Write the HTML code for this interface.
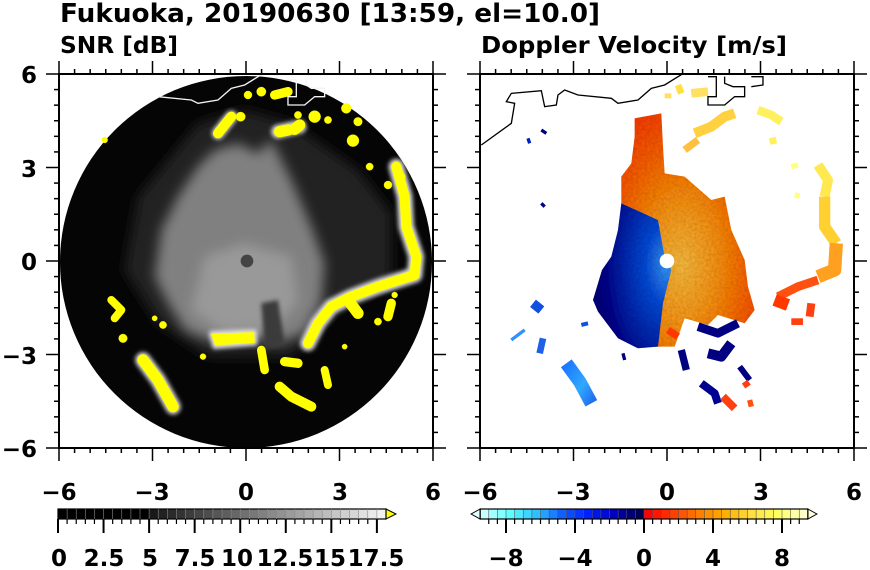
<!DOCTYPE html>
<html><head><meta charset="utf-8"><style>
html,body{margin:0;padding:0;background:#fff;}
svg{display:block;}
text{font-family:"DejaVu Sans","Liberation Sans",sans-serif;font-weight:bold;fill:#000;}
</style></head><body>
<svg id="s" width="870" height="570" viewBox="0 0 870 570" xmlns="http://www.w3.org/2000/svg">
<defs>
<filter id="bl" x="-30%" y="-30%" width="160%" height="160%"><feGaussianBlur stdDeviation="18"/></filter>
<filter id="bl2" x="-30%" y="-30%" width="160%" height="160%"><feGaussianBlur stdDeviation="6"/></filter>
<filter id="nz" x="0" y="0" width="100%" height="100%">
 <feTurbulence type="fractalNoise" baseFrequency="0.12" numOctaves="2" result="t"/>
 <feColorMatrix in="t" type="matrix" values="0 0 0 0 0  0 0 0 0 0  0 0 0 0 0  0 0 0 0.4 0" result="a"/>
 <feComposite in="a" in2="SourceGraphic" operator="in" result="m"/>
 <feMerge><feMergeNode in="SourceGraphic"/><feMergeNode in="m"/></feMerge>
</filter>
<radialGradient id="gb" cx="0.95" cy="0.42" r="0.9">
 <stop offset="0" stop-color="#3aa0ff"/><stop offset="0.3" stop-color="#1050e0"/><stop offset="0.7" stop-color="#0820a8"/><stop offset="1" stop-color="#000080"/>
</radialGradient>
<radialGradient id="go" cx="0.45" cy="0.65" r="0.75">
 <stop offset="0" stop-color="#ffc040"/><stop offset="0.35" stop-color="#ff9818"/><stop offset="0.7" stop-color="#ff6000"/><stop offset="1" stop-color="#ff3800"/>
</radialGradient>
<linearGradient id="gl" x1="0" y1="0" x2="1" y2="1"><stop offset="0" stop-color="#1a78ff"/><stop offset="0.6" stop-color="#30a8ff"/><stop offset="1" stop-color="#2070f0"/></linearGradient>
<clipPath id="cL"><rect x="59" y="74" width="374" height="374"/></clipPath>
<clipPath id="cR"><rect x="480" y="74" width="374" height="374"/></clipPath>
</defs>

<text x="60" y="22" font-size="26" textLength="540" lengthAdjust="spacingAndGlyphs">Fukuoka, 20190630 [13:59, el=10.0]</text>
<text x="60" y="53" font-size="23" textLength="118" lengthAdjust="spacingAndGlyphs">SNR [dB]</text>
<text x="481" y="53" font-size="23" textLength="306" lengthAdjust="spacingAndGlyphs">Doppler Velocity [m/s]</text>

<!-- LEFT PANEL -->
<g clip-path="url(#cL)">
<circle cx="246" cy="262" r="186" fill="#050505"/>
<g transform="translate(58,70) scale(0.3333)">
 <path filter="url(#bl)" fill="#222" d="M240,380 L420,160 L560,120 L700,160 L900,300 L1000,430 L1000,640 L840,720 L700,860 L450,860 L300,760 L200,600 Z"/>
 <path filter="url(#bl)" fill="#808080" d="M470,240 L540,220 L600,250 L640,210 L700,330 L760,470 L800,580 L790,700 L740,790 L660,820 L590,800 L450,810 L380,780 L330,700 L290,620 L310,480 L360,380 L420,290 Z"/>
 <path filter="url(#bl)" fill="#999" d="M440,560 L560,520 L700,560 L720,700 L640,780 L500,790 L400,720 Z"/>
 <path filter="url(#bl2)" fill="#3a3a3a" d="M610,700 L660,690 L680,820 L620,840 Z"/>
 <circle cx="567" cy="573" r="19" fill="#444"/>
 <g fill="#e8e8e8" stroke="#e0e0e0" stroke-linejoin="round" stroke-linecap="round" filter="url(#bl2)">
  <path stroke-width="14" d="M460,790 L590,785 L592,820 L470,830 Z"/>
  <polyline fill="none" stroke-width="46" points="1015,290 1040,380 1045,470 1075,560 1070,615 960,650 880,680 820,710 780,760 750,820"/>
  <polyline fill="none" stroke-width="46" points="255,870 300,930 345,1010"/>
  <polyline fill="none" stroke-width="36" points="480,190 520,140"/>
  <polyline fill="none" stroke-width="40" points="660,185 725,170"/>
 </g>
 <g fill="#ffff00" stroke="#ffff00" stroke-linejoin="round" stroke-linecap="round">
  <path d="M460,792 L588,787 L590,818 L472,826 Z"/>
  <polyline fill="none" stroke-width="30" points="1015,290 1040,380 1045,470 1075,560 1070,615 960,650 880,680 820,710 780,760 750,820"/>
  <polyline fill="none" stroke-width="34" points="870,690 900,730"/>
  <polyline fill="none" stroke-width="28" points="1000,700 990,740"/>
  <polyline fill="none" stroke-width="34" points="255,870 300,930 345,1010"/>
  <polyline fill="none" stroke-width="30" points="480,190 520,140"/>
  <circle cx="548" cy="140" r="14"/>
  <polyline fill="none" stroke-width="34" points="665,185 690,180"/>
  <polyline fill="none" stroke-width="34" points="710,178 725,165"/>
  <polyline fill="none" stroke-width="28" points="650,75 690,65"/>
  <circle cx="610" cy="65" r="14"/><circle cx="570" cy="75" r="12"/>
  <circle cx="770" cy="140" r="18"/><circle cx="720" cy="135" r="11"/><circle cx="810" cy="150" r="11"/>
  <circle cx="865" cy="115" r="15"/><circle cx="885" cy="212" r="18"/><circle cx="900" cy="155" r="13"/>
  <circle cx="935" cy="290" r="11"/><circle cx="990" cy="345" r="12"/><circle cx="1030" cy="320" r="12"/>
  <polyline fill="none" stroke-width="24" points="160,690 190,720 170,745"/>
  <circle cx="195" cy="805" r="13"/><circle cx="140" cy="210" r="9"/>
  <circle cx="315" cy="765" r="11"/><circle cx="290" cy="745" r="8"/>
  <polyline fill="none" stroke-width="26" points="610,840 620,900"/>
  <polyline fill="none" stroke-width="28" points="680,875 720,880"/>
  <polyline fill="none" stroke-width="30" points="665,950 700,980 760,1010"/>
  <polyline fill="none" stroke-width="24" points="800,900 810,945"/>
  <circle cx="435" cy="860" r="9"/><circle cx="860" cy="830" r="8"/><circle cx="960" cy="755" r="11"/>
  <circle cx="1010" cy="675" r="9"/>
 </g>
 <g fill="none" stroke="#f4f4f4" stroke-width="4">
  <path d="M300,80 L400,90 L420,100 L480,90 L520,55 L560,45 L600,20 L625,5"/>
  <path d="M690,30 L715,30 L715,80 L690,80 L690,105 L740,105 L770,80 L800,80 L800,55 L760,55 L745,45 L745,30"/>
 </g>
</g>
</g>

<!-- RIGHT PANEL -->
<g clip-path="url(#cR)">
<g transform="translate(478,70) scale(0.3333)">
 <path filter="url(#nz)" fill="url(#go)" d="M470,145 L550,130 L555,230 L560,310 L620,320 L700,390 L740,380 L760,480 L800,570 L810,650 L830,720 L800,760 L720,735 L690,765 L620,745 L590,830 L530,830 L540,700 L578,600 L560,560 L540,450 L430,400 L430,320 L460,280 L470,200 Z"/>
 <path filter="url(#nz)" fill="url(#gb)" d="M430,400 L540,450 L560,560 L580,600 L555,700 L540,830 L480,835 L420,805 L360,725 L345,690 L372,600 L400,560 L420,480 Z"/>
 <g stroke-linejoin="round" fill="none">
  <polyline stroke="#ffe850" stroke-width="30" points="1020,285 1050,330 1040,380"/>
  <polyline stroke="#ffd030" stroke-width="34" points="1040,380 1040,470 1075,520"/>
  <polyline stroke="#ffa020" stroke-width="40" points="1075,520 1070,600 1020,620"/>
  <polyline stroke="#ff5010" stroke-width="26" points="1020,630 960,650 900,680"/>
  <polyline stroke="#ff3800" stroke-width="36" points="890,690 930,705"/>
  <polyline stroke="#ff4010" stroke-width="24" points="1000,700 995,740"/>
  <polyline stroke="#ff4010" stroke-width="20" points="940,755 975,755"/>
  <polyline stroke="#ffd040" stroke-width="30" points="650,190 700,170 740,140 770,130"/>
  <polyline stroke="#ffc040" stroke-width="22" points="620,240 660,210"/>
  <polyline stroke="#ffe060" stroke-width="26" points="640,70 690,65"/>
  <polyline stroke="#ffe040" stroke-width="20" points="600,45 610,70"/>
  <polyline stroke="#ffe060" stroke-width="20" points="570,70 570,85"/>
  <polyline stroke="#fff060" stroke-width="26" points="840,120 880,135 910,155"/>
  <polyline stroke="#fff060" stroke-width="20" points="875,215 895,210"/>
  <polyline stroke="#ffff80" stroke-width="16" points="940,290 960,285"/>
  <polyline stroke="#ffff80" stroke-width="16" points="950,375 965,378"/>
  <polyline stroke="#000080" stroke-width="26" points="660,770 720,790 780,760"/>
  <polyline stroke="#000080" stroke-width="30" points="690,850 730,860 760,820"/>
  <polyline stroke="#ff3800" stroke-width="22" points="570,780 600,800"/>
  <polyline stroke="#000080" stroke-width="22" points="610,840 625,900"/>
  <polyline stroke="#000090" stroke-width="24" points="670,940 710,970 720,1000"/>
  <polyline stroke="#ff4010" stroke-width="24" points="735,980 770,1015"/>
  <polyline stroke="#000080" stroke-width="18" points="785,890 815,930"/>
  <polyline stroke="#ff4010" stroke-width="20" points="800,935 810,950"/>
  <polyline stroke="#ff5010" stroke-width="16" points="815,990 820,1010"/>
  <polyline stroke="url(#gl)" stroke-width="40" points="265,880 305,935 340,1000"/>
  <polyline stroke="#1050e0" stroke-width="28" points="165,700 190,720"/>
  <polyline stroke="#2060e8" stroke-width="20" points="195,805 185,850"/>
  <polyline stroke="#3090ff" stroke-width="10" points="100,810 140,780"/>
  <polyline stroke="#1050e0" stroke-width="12" points="310,765 330,760"/>
  <polyline stroke="#000080" stroke-width="10" points="190,180 205,190"/>
  <polyline stroke="#0020c0" stroke-width="10" points="150,205 155,220"/>
  <polyline stroke="#000090" stroke-width="10" points="190,400 200,410"/>
  <polyline stroke="#000080" stroke-width="10" points="435,850 440,870"/>
 </g>
 <circle cx="567" cy="573" r="22" fill="#fff"/>
 <g fill="none" stroke="#000" stroke-width="4">
  <path d="M10,225 L100,160 L110,100 L85,95 L100,70 L190,62 L200,110 L235,105 L240,75 L260,60 L300,75 L400,85 L420,100 L480,90 L520,55 L560,45 L600,20 L625,5"/>
  <path d="M690,20 L715,20 L715,80 L690,80 L690,105 L740,105 L770,80 L800,80 L800,50 L765,50 L740,40 L740,20 M820,20 L855,20 L855,45 L820,50"/>
 </g>
</g>
</g>

<g id="frames" fill="none" stroke="#000" stroke-width="2">
 <rect x="59" y="74" width="374" height="374"/>
 <rect x="480" y="74" width="374" height="374"/>
</g>
<g id="ticks" stroke="#000" stroke-width="1.5"></g>

<g font-size="23" text-anchor="end">
 <text x="37" y="83">6</text><text x="37" y="177">3</text><text x="37" y="270">0</text>
 <text x="37" y="364">−3</text><text x="37" y="457">−6</text>
</g>
<g font-size="23" text-anchor="middle">
 <text x="59" y="500">−6</text><text x="152" y="500">−3</text><text x="246" y="500">0</text><text x="340" y="500">3</text><text x="433" y="500">6</text>
 <text x="480" y="500">−6</text><text x="573" y="500">−3</text><text x="667" y="500">0</text><text x="761" y="500">3</text><text x="854" y="500">6</text>
 <text x="59" y="566">0</text><text x="104" y="566">2.5</text><text x="150" y="566">5</text><text x="195" y="566">7.5</text>
 <text x="237" y="566">10</text><text x="285" y="566">12.5</text><text x="330" y="566">15</text><text x="376" y="566">17.5</text>
 <text x="506" y="566">−8</text><text x="575" y="566">−4</text><text x="644" y="566">0</text><text x="713" y="566">4</text><text x="782" y="566">8</text>
</g>
<g id="cb"></g>
</svg>
<script>
(function(){
var NS="http://www.w3.org/2000/svg";
function el(p,n,a){var e=document.createElementNS(NS,n);for(var k in a)e.setAttribute(k,a[k]);p.appendChild(e);return e;}
var T=document.getElementById("ticks");
function line(x1,y1,x2,y2){el(T,"line",{x1:x1,y1:y1,x2:x2,y2:y2});}
[[59,74],[480,74]].forEach(function(o){
 var x0=o[0],y0=o[1],L=374,s=L/24;
 for(var i=0;i<=24;i++){
  var len=(i%6==0)?13:5, p=i*s;
  line(x0+p,y0,x0+p,y0-len); line(x0+p,y0+L,x0+p,y0+L+len);
  line(x0,y0+p,x0-len,y0+p); line(x0+L,y0+p,x0+L+len,y0+p);
 }
});
var C=document.getElementById("cb");
var w=328/36;
for(var i=0;i<36;i++){var v=i*0.5;var g=v<5?0:Math.round(25+(v-5)/13*225);
 el(C,"rect",{x:58+i*w,y:509,width:w+0.3,height:10,fill:"rgb("+g+","+g+","+g+")"});}
el(C,"polygon",{points:"386,509 396,514 386,519",fill:"#ffff00",stroke:"#000","stroke-width":1});
el(C,"rect",{x:58,y:509,width:328,height:10,fill:"none",stroke:"#000","stroke-width":1.2});
for(var i=0;i<36;i++){var x=58+i*w;var maj=(i%5==0);
 el(C,"line",{x1:x,y1:519,x2:x,y2:maj?533:524,stroke:"#000","stroke-width":maj?2:1.2});
 if(i>0)el(C,"line",{x1:x,y1:509,x2:x,y2:519,stroke:"#888","stroke-width":0.6});}
var neg=[[200,255,255],[96,255,255],[48,192,255],[16,96,255],[0,32,255],[0,0,192],[0,0,80]];
var pos=[[255,0,0],[255,64,0],[255,128,0],[255,176,0],[255,224,64],[255,255,96],[255,255,200]];
function lerp(a,t){var n=a.length-1,f=t*n,i=Math.min(Math.floor(f),n-1),r=f-i;
 return "rgb("+[0,1,2].map(function(k){return Math.round(a[i][k]+(a[i+1][k]-a[i][k])*r);}).join(",")+")";}
var w2=17.25/2,x0=644-9.5*17.25;
for(var i=0;i<38;i++){var c=i<19?lerp(neg,i/18):lerp(pos,(i-19)/18);
 el(C,"rect",{x:x0+i*w2,y:509,width:w2+0.3,height:10,fill:c});
 if(i>0)el(C,"line",{x1:x0+i*w2,y1:509,x2:x0+i*w2,y2:519,stroke:"#555","stroke-width":0.6});}
el(C,"polygon",{points:x0+",509 "+(x0-9)+",514 "+x0+",519",fill:"#e0ffff",stroke:"#000","stroke-width":1});
var xe=x0+38*w2;
el(C,"polygon",{points:xe+",509 "+(xe+9)+",514 "+xe+",519",fill:"#ffffe0",stroke:"#000","stroke-width":1});
el(C,"rect",{x:x0,y:509,width:38*w2,height:10,fill:"none",stroke:"#000","stroke-width":1.2});
for(var i=1;i<38;i++){var v=-9.5+i*0.5;var x=x0+i*w2;var maj=(Math.abs(v%4)<1e-6);
 el(C,"line",{x1:x,y1:519,x2:x,y2:maj?533:524,stroke:"#000","stroke-width":maj?2:1.2});}
})();
</script>
</body></html>
